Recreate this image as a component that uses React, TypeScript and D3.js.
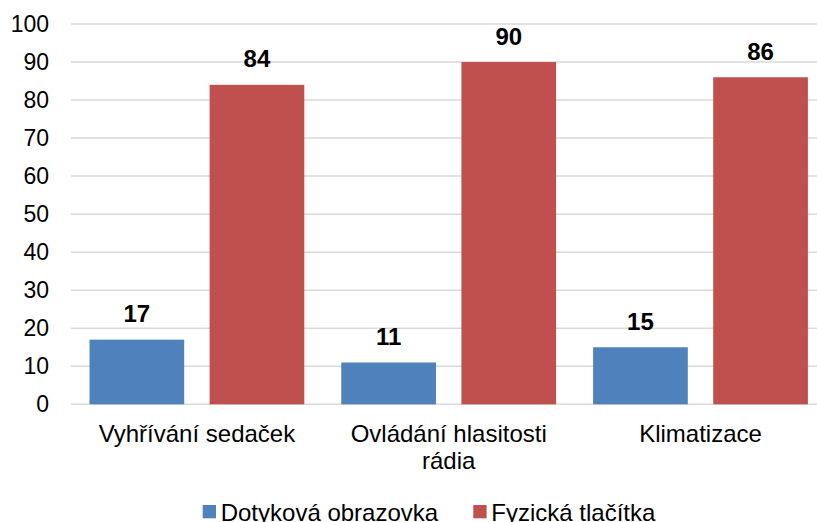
import React from 'react';
import * as d3 from 'd3';

const categories = [['Vyhřívání sedaček'], ['Ovládání hlasitosti', 'rádia'], ['Klimatizace']];
const seriesNames = ['Dotyková obrazovka', 'Fyzická tlačítka'];
const touchValues = [17, 11, 15];
const buttonValues = [84, 90, 86];
const yTicks = [0, 10, 20, 30, 40, 50, 60, 70, 80, 90, 100];
const colors = ['#4F81BD', '#C0504D'];

const W = 817;
const H = 522;
const FONT = 'Arial, "Liberation Sans", sans-serif';

const App: React.FC = () => {
  const keys = categories.map((c) => c.join(' '));
  const x = d3.scaleBand<string>().domain(keys).range([71, 826.4]).padding(0);
  const inner = d3
    .scaleBand<string>()
    .domain(seriesNames)
    .range([18.5, x.bandwidth() - 18.5])
    .paddingInner(0.2115)
    .paddingOuter(0);
  const y = d3.scaleLinear().domain([0, 100]).range([404.3, 24]);
  const series = [touchValues, buttonValues];

  return (
    <svg
      width={W}
      height={H}
      style={{ position: 'absolute', left: 0, top: 0, display: 'block', background: '#fff' }}
      fontFamily={FONT}
    >
      {/* grid */}
      {yTicks.map((t) => (
        <line key={t} x1={71} x2={W} y1={y(t)} y2={y(t)} stroke="#d9d9d9" strokeWidth={1.5} />
      ))}
      {yTicks.map((t) => (
        <text key={'l' + t} x={49} y={y(t)} textAnchor="end" dominantBaseline="central" fontSize={23} fill="#000">
          {t}
        </text>
      ))}

      {/* bars */}
      {keys.map((k, i) =>
        series.map((vals, s) => {
          const bx = (x(k) as number) + (inner(seriesNames[s]) as number);
          const bw = inner.bandwidth();
          return (
            <g key={k + s}>
              <rect x={bx} y={y(vals[i])} width={bw} height={y(0) - y(vals[i])} fill={colors[s]} />
              <text
                x={bx + bw / 2}
                y={y(vals[i]) - 17.5}
                textAnchor="middle"
                fontSize={24}
                fontWeight="bold"
                fill="#000"
              >
                {vals[i]}
              </text>
            </g>
          );
        })
      )}

      {/* category labels */}
      {categories.map((lines, i) => (
        <text key={'c' + i} x={(x(keys[i]) as number) + x.bandwidth() / 2} y={442} textAnchor="middle" fontSize={24} fill="#000">
          {lines.map((ln, j) => (
            <tspan key={j} x={(x(keys[i]) as number) + x.bandwidth() / 2} dy={j === 0 ? 0 : 27}>
              {ln}
            </tspan>
          ))}
        </text>
      ))}

      {/* legend */}
      {seriesNames.map((n, s) => {
        const lx = [202.7, 473.3][s];
        return (
          <g key={n}>
            <rect x={lx} y={505} width={13.3} height={13.3} fill={colors[s]} />
            <text x={lx + 18} y={520.5} fontSize={24} fill="#000">
              {n}
            </text>
          </g>
        );
      })}
    </svg>
  );
};

export default App;
